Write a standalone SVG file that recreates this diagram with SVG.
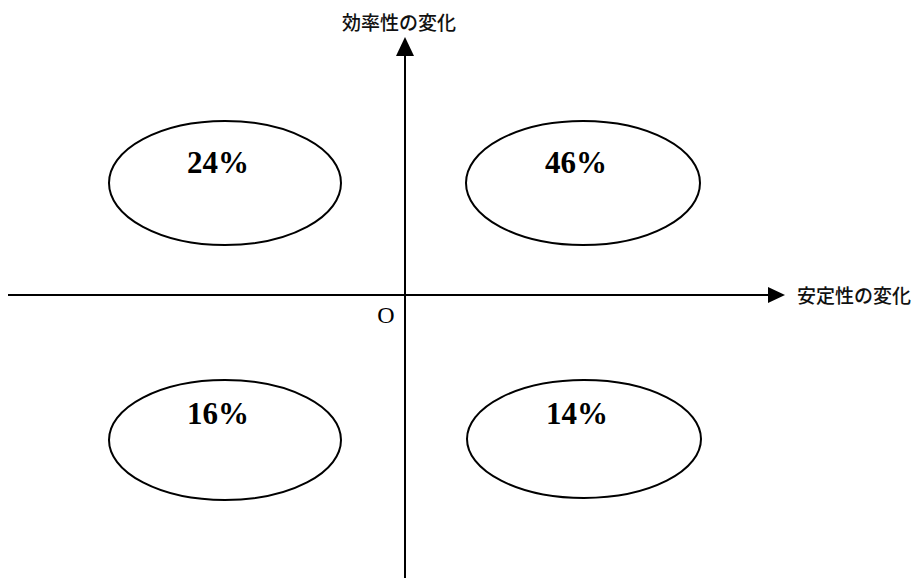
<svg xmlns="http://www.w3.org/2000/svg" width="921" height="578" viewBox="0 0 921 578">
<style>
.ax{stroke:#000;stroke-width:2;fill:none}
.el{stroke:#000;stroke-width:2;fill:none}
.pct{font-family:"Liberation Serif",serif;font-weight:bold;font-size:31px;text-anchor:middle;fill:#000}
.lbl{font-family:"Noto Sans CJK JP","Noto Sans CJK SC",sans-serif;font-size:19px;font-weight:500;fill:#111}
</style>
<rect width="921" height="578" fill="#fff"/>
<g id="connectors">
<line class="ax" x1="8" y1="295" x2="769" y2="295"/>
<path d="M768,287 L785,295 L768,303 Z" fill="#000"/>
<line class="ax" x1="405" y1="578" x2="405" y2="54"/>
<path d="M396,56 L405,37 L414,56 Z" fill="#000"/>
</g>
<g id="label-y"><text class="lbl" x="342" y="30">効率性の変化</text></g>
<g id="label-x"><text class="lbl" x="797" y="303">安定性の変化</text></g>
<g id="origin"><text x="386" y="323" font-family="Liberation Serif,serif" font-size="24" text-anchor="middle">O</text></g>
<g id="q2"><ellipse class="el" cx="225" cy="183" rx="116" ry="62"/><text class="pct" x="218" y="173">24%</text></g>
<g id="q1"><ellipse class="el" cx="583" cy="183" rx="117" ry="62"/><text class="pct" x="576" y="173">46%</text></g>
<g id="q3"><ellipse class="el" cx="225" cy="440" rx="116" ry="60"/><text class="pct" x="218" y="424">16%</text></g>
<g id="q4"><ellipse class="el" cx="584" cy="439" rx="117" ry="59"/><text class="pct" x="577" y="424">14%</text></g>
</svg>
